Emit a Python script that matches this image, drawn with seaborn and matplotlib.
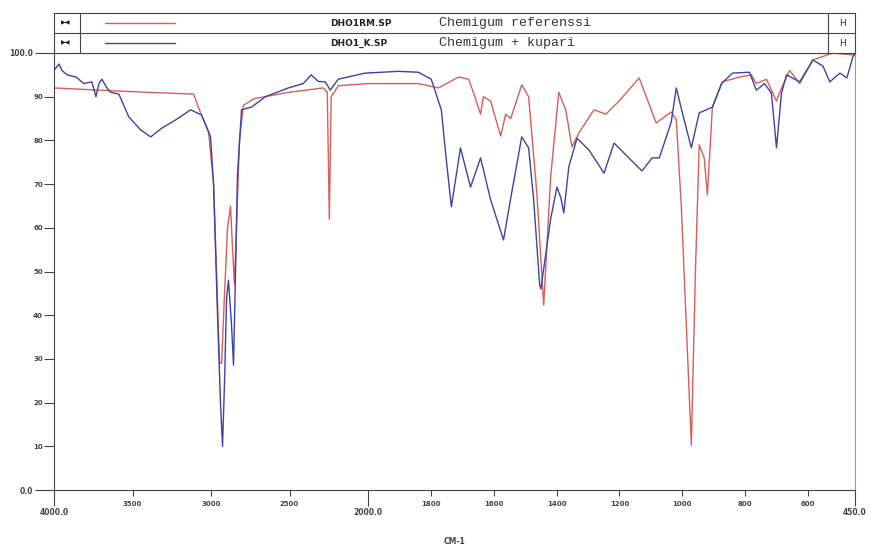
import numpy as np
import matplotlib
matplotlib.use("Agg")
import matplotlib.pyplot as plt
import seaborn as sns

# ── Data ─────────────────────────────────────────────────────────────────── #
red_wn = [4000, 3714, 3397, 3111, 3079, 3016, 2984, 2965, 2946, 2933, 2914,
          2895, 2876, 2863, 2851, 2838, 2819, 2794, 2730, 2508, 2286, 2260,
          2247, 2235, 2190, 2000, 1904, 1840, 1776, 1712, 1680, 1665, 1642,
          1633, 1610, 1578, 1562, 1546, 1511, 1489, 1463, 1441, 1419, 1393,
          1371, 1351, 1329, 1281, 1243, 1201, 1137, 1083, 1035, 1019, 1003,
          971, 958, 946, 930, 920, 904, 872, 818, 780, 764, 732, 700, 684,
          658, 626, 584, 521, 450]
red_t = [92, 91.5, 91, 90.6, 87.4, 82, 70, 50, 29, 29, 45,
         60, 65, 55, 47, 60, 80, 88, 89.5, 91, 92, 91,
         62, 90, 92.5, 93, 93, 93, 92, 94.5, 94, 91, 86,
         90, 89, 81, 86, 85, 92.7, 90, 68, 42.3, 71.6, 91,
         87, 78.5, 81.7, 87, 86, 89, 94.3, 84, 86.5, 84.7, 65,
         10.3, 50, 79, 76, 67.5, 87.6, 93.4, 94.5, 95, 93, 94, 89, 92,
         96, 93, 98.4, 100, 99.5]

blue_wn = [4000, 3968, 3949, 3917, 3860, 3810, 3759, 3733, 3714, 3695, 3663,
           3638, 3587, 3524, 3448, 3384, 3314, 3225, 3130, 3060, 3003, 2984,
           2959, 2940, 2927, 2914, 2901, 2889, 2870, 2857, 2844, 2832, 2806,
           2743, 2654, 2508, 2413, 2362, 2317, 2273, 2241, 2190, 2019, 1904,
           1840, 1799, 1767, 1751, 1735, 1706, 1674, 1642, 1610, 1569, 1543,
           1511, 1489, 1473, 1454, 1450, 1419, 1399, 1387, 1377, 1361, 1335,
           1297, 1249, 1217, 1170, 1128, 1096, 1073, 1035, 1019, 994, 971,
           946, 904, 875, 840, 786, 764, 738, 716, 700, 684, 668, 626, 584,
           552, 530, 498, 476, 457, 450]
blue_t = [96, 97.5, 96, 95, 94.5, 93, 93.4, 90, 93, 94, 92,
          91, 90.6, 85.4, 82.4, 80.8, 82.8, 84.7, 87, 85.8, 80.8, 70,
          40, 20, 10, 25, 44, 48, 38, 28.6, 50, 72, 87,
          87.6, 90, 92, 93, 95, 93.5, 93.4, 91.5, 94, 95.4, 95.8,
          95.6, 94, 87, 75.5, 64.8, 78.3, 69.3, 76, 66.4, 57.2, 68,
          80.8, 78.3, 66.4, 47, 46, 62, 69.3, 67, 63.4, 74, 80.5,
          77.8, 72.5, 79.4, 76, 73, 76, 76, 84.2, 92, 84.7, 78.3,
          86.3, 87.6, 93, 95.4, 95.6, 91.5, 93, 90.8, 78.3, 90.8, 95, 93.4, 98.4,
          97, 93.4, 95.4, 94.3, 99, 100]

x_major = [4000, 2000, 450]
x_major_labels = ["4000.0", "2000.0", "450.0"]
x_minor = [3500, 3000, 2500, 1800, 1600, 1400, 1200, 1000, 800, 600]
x_minor_labels = ["3500", "3000", "2500", "1800", "1600", "1400", "1200",
                  "1000", "800", "600"]
y_major = [0, 100]
y_major_labels = ["0.0", "100.0"]
y_minor = [10, 20, 30, 40, 50, 60, 70, 80, 90]
y_minor_labels = ["10", "20", "30", "40", "50", "60", "70", "80", "90"]

files = ["DHO1RM.SP", "DHO1_K.SP"]
descriptions = ["Chemigum referenssi", "Chemigum + kupari"]
RED = "#d65f58"
BLUE = "#3d43a3"
AXC = "#444444"


# ── Scale: 4000-2000 compressed by factor 2 ──────────────────────────────── #
def fwd(x):
    x = np.asarray(x, dtype=float)
    return np.where(x >= 2000, x / 2 + 1000, x)


def inv(u):
    u = np.asarray(u, dtype=float)
    return np.where(u >= 2000, (u - 1000) * 2, u)


sns.set_style("white")
plt.rcParams["font.family"] = ["DejaVu Sans"]

fig = plt.figure(figsize=(8.71, 5.53), dpi=100)
ax = fig.add_axes([54 / 871, 63 / 553, 801 / 871, 437 / 553])

sns.lineplot(x=red_wn, y=red_t, ax=ax, color=RED, lw=1.0, sort=False,
             estimator=None)
sns.lineplot(x=blue_wn, y=blue_t, ax=ax, color=BLUE, lw=1.0, sort=False,
             estimator=None)

ax.set_xscale("function", functions=(fwd, inv))
ax.set_xlim(4000, 450)
ax.set_ylim(0, 100)

ax.set_xticks(x_major)
ax.set_xticklabels(x_major_labels)
ax.set_xticks(x_minor, minor=True)
ax.set_xticklabels(x_minor_labels, minor=True)
ax.set_yticks(y_major)
ax.set_yticklabels(y_major_labels)
ax.set_yticks(y_minor, minor=True)
ax.set_yticklabels(y_minor_labels, minor=True)

ax.tick_params(axis="x", which="major", length=11.5, width=0.8, pad=1.5,
               labelsize=5.5, colors=AXC, bottom=True)
ax.tick_params(axis="x", which="minor", length=4.3, width=0.8, pad=3.5,
               labelsize=5, colors=AXC, bottom=True)
ax.tick_params(axis="y", which="major", length=14, width=0.8, pad=1,
               labelsize=5.5, colors=AXC, left=True)
ax.tick_params(axis="y", which="minor", length=7, width=0.8, pad=1,
               labelsize=5, colors=AXC, left=True)
for lab in ax.get_xticklabels(which="both") + ax.get_yticklabels(which="both"):
    lab.set_fontweight("bold")

for side in ["left", "bottom", "right", "top"]:
    ax.spines[side].set_visible(True)
    ax.spines[side].set_color(AXC)
    ax.spines[side].set_linewidth(0.8)
ax.spines["right"].set_color("#999999")

ax.set_xlabel("CM-1", fontsize=5.5, fontweight="bold", color=AXC, labelpad=14)
ax.set_ylabel("")

# ── Legend box on top ────────────────────────────────────────────────────── #
lax = fig.add_axes([54 / 871, 500 / 553, 801 / 871, 40 / 553])
lax.set_xlim(0, 801)
lax.set_ylim(0, 40)
lax.set_xticks([])
lax.set_yticks([])
for side in lax.spines:
    lax.spines[side].set_color(AXC)
    lax.spines[side].set_linewidth(0.8)
lax.axhline(20, color=AXC, lw=0.8)
lax.axvline(26, color=AXC, lw=0.8)
lax.axvline(774, color=AXC, lw=0.8)

for i, (fname, desc, col) in enumerate(zip(files, descriptions, [RED, BLUE])):
    yc = 30 - 20 * i
    lax.text(12, yc, "▶◀", fontsize=4.5, ha="center", va="center", color="#222222")
    lax.plot([51, 121], [yc, yc], color=col, lw=1.0)
    lax.text(276, yc, fname, fontsize=6.5, fontweight="bold", ha="left",
             va="center", color="#222222")
    lax.text(385, yc, desc, fontsize=9.5, family=["Liberation Mono", "DejaVu Sans Mono"],
             ha="left", va="center", color="#333333")
    lax.text(788, yc, "H", fontsize=6.5, ha="center", va="center", color="#333333")

fig.savefig("out.png", dpi=100)
